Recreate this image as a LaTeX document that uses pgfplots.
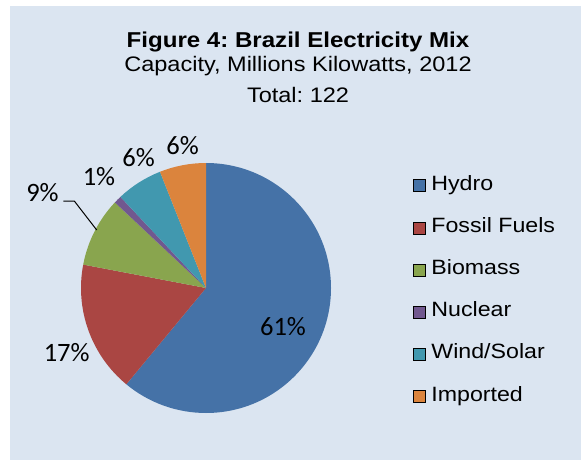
\documentclass[border=0pt]{standalone}
\usepackage{fontspec}
\setmainfont{Liberation Sans}[FakeStretch=1.12]
\newfontfamily\calfont{Carlito}
\usepackage{pgfplots}
\usepackage{pgfplotstable}
\pgfplotsset{compat=1.18}
\frenchspacing
\definecolor{bg}{HTML}{DBE5F1}
\definecolor{hydro}{HTML}{4572A7}
\definecolor{fossil}{HTML}{AA4643}
\definecolor{biomass}{HTML}{89A54E}
\definecolor{nuclear}{HTML}{71588F}
\definecolor{wind}{HTML}{4198AF}
\definecolor{imported}{HTML}{DB843D}

% share of capacity, percent
\pgfplotstableread{
label value col
Hydro 61 hydro
Fossil 17 fossil
Biomass 9 biomass
Nuclear 1 nuclear
Wind 6 wind
Imported 6 imported
}\piedata
\pgfplotstablegetrowsof{\piedata}
\pgfmathtruncatemacro\nrows{\pgfplotsretval-1}

\begin{document}
\frenchspacing
\begin{tikzpicture}
\useasboundingbox (0,0) rectangle (581pt,459pt);
\fill[bg] (10pt,-20pt) rectangle (620pt,453pt);
\begin{axis}[
  at={(0,0)}, anchor=south west,
  x=1pt, y=1pt, xmin=0, xmax=581, ymin=0, ymax=459,
  hide axis, clip=false,
  legend image code/.code={\fill[#1] (0pt,-6pt) rectangle (12pt,6pt);},
  legend style={draw=none, fill=none, inner sep=0pt, outer sep=0pt,
    at={(axis cs:413,284)}, anchor=north west,
    font=\fontsize{20.7}{24}\selectfont,
    row sep=21.2pt, column sep=6pt,
    nodes={inner sep=0pt, text height=15pt, text depth=6pt}},
  legend cell align=left,
]
\gdef\curang{90}
\pgfplotsforeachungrouped \i in {0,...,\nrows}{%
  \pgfplotstablegetelem{\i}{value}\of\piedata \let\val\pgfplotsretval
  \pgfplotstablegetelem{\i}{col}\of\piedata \let\col\pgfplotsretval
  \pgfmathsetmacro\endang{\curang-3.6*\val}%
  \edef\doit{\noexpand\fill[\col] (axis cs:206,171) -- ++(\curang:125pt)
    arc[start angle=\curang, end angle=\endang, radius=125pt] -- cycle;}%
  \doit
  \global\let\curang\endang
}

\addlegendimage{fill=hydro}\addlegendentry{Hydro}
\addlegendimage{fill=fossil}\addlegendentry{Fossil Fuels}
\addlegendimage{fill=biomass}\addlegendentry{Biomass}
\addlegendimage{fill=nuclear}\addlegendentry{Nuclear}
\addlegendimage{fill=wind}\addlegendentry{Wind/Solar}
\addlegendimage{fill=imported}\addlegendentry{Imported}

% titles
\node[anchor=base, inner sep=0pt, font=\bfseries\fontsize{21.5}{25}\selectfont] at (axis cs:298,411.3) {Figure 4: Brazil Electricity Mix};
\node[anchor=base, inner sep=0pt, font=\fontsize{21}{25}\selectfont] at (axis cs:298,387.3) {Capacity, Millions Kilowatts, 2012};
\node[anchor=base, inner sep=0pt, font=\fontsize{21}{25}\selectfont] at (axis cs:298,356.3) {Total: 122};

% data labels
\begin{scope}[every node/.style={font=\calfont\fontsize{26.5}{30}\selectfont, inner sep=0pt}]
\node at (axis cs:283,132) {61\%};
\node at (axis cs:66.7,106) {17\%};
\node at (axis cs:42.5,266) {9\%};
\node at (axis cs:99,282.5) {1\%};
\node at (axis cs:138.5,301) {6\%};
\node at (axis cs:182.5,313) {6\%};
\end{scope}
\draw[black, line width=1pt] (axis cs:63.3,258) -- (axis cs:74.3,258) -- (axis cs:96.7,229);
\end{axis}
\end{tikzpicture}
\end{document}
